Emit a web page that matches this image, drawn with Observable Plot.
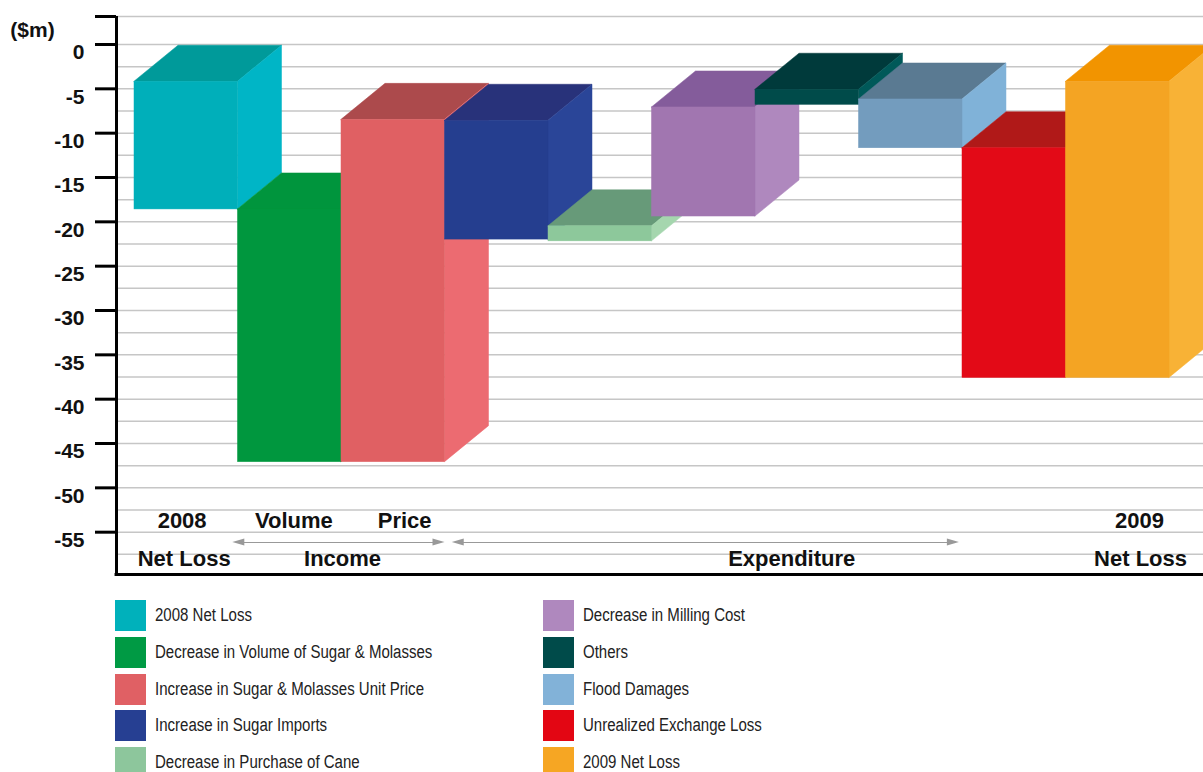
<!DOCTYPE html>
<html>
<head>
<meta charset="utf-8">
<script src="https://cdn.jsdelivr.net/npm/d3@7"></script>
<script src="https://cdn.jsdelivr.net/npm/@observablehq/plot@0.6"></script>
<style>
  html, body { margin: 0; padding: 0; background: #fff; }
  #chart svg { display: block; }
  #legend { position: relative; height: 196px; font-family: "Liberation Sans", Arial, sans-serif; font-size: 18px; color: #222; }
  .item { position: absolute; display: flex; align-items: center; height: 31px; white-space: nowrap; }
  .sw { width: 31px; height: 31px; margin-right: 9px; flex: none; }
  .item span { display: inline-block; transform: scaleX(0.835); transform-origin: left center; }
</style>
</head>
<body>
<div id="chart"></div>
<div id="legend"></div>
<script>
// ---------------- DATA ----------------
const categories = [
  "2008 Net Loss",
  "Decrease in Volume of Sugar & Molasses",
  "Increase in Sugar & Molasses Unit Price",
  "Increase in Sugar Imports",
  "Decrease in Purchase of Cane",
  "Decrease in Milling Cost",
  "Others",
  "Flood Damages",
  "Unrealized Exchange Loss",
  "2009 Net Loss"
];
// lower and upper level of each floating bar ($m)
const barLow  = [-18.6, -47.1, -47.1, -22.0, -22.2, -19.4, -6.8, -11.7, -37.6, -37.6];
const barHigh = [-4.2, -18.6, -8.5, -8.6, -20.5, -7.1, -5.1, -6.2, -11.7, -4.2];

const frontColors  = ["#00afba", "#00973e", "#e06063", "#253e8f", "#8dc89b", "#a176b0", "#004b4a", "#739cbe", "#e30a17", "#f4a423"];
const topColors    = ["#009a9a", "#00953d", "#ac4a4c", "#28327a", "#679a79", "#845c9b", "#003a3b", "#5a7a92", "#b01918", "#f29400"];
const sideColors   = ["#00b5c6", "#009c42", "#ec6b71", "#2a4598", "#a5d6ae", "#af88be", "#005959", "#80b2d8", "#e53030", "#f8b236"];
const legendColors = ["#00b1bb", "#009a44", "#e06064", "#263f92", "#8dc69c", "#af88be", "#004b4a", "#82b2d8", "#e30613", "#f6a623"];

const yTicks = [0, -5, -10, -15, -20, -25, -30, -35, -40, -45, -50, -55];
const gridValues = d3.range(0, -57.5 - 0.01, -2.5);

// axis annotation rows (bar-index positions)
const topLabels = [
  {text: "2008", at: 0.46}, {text: "Volume", at: 1.54}, {text: "Price", at: 2.61}, {text: "2009", at: 9.71}
];
const bottomLabels = [
  {text: "Net Loss", at: 0.48}, {text: "Income", at: 2.01}, {text: "Expenditure", at: 6.35}, {text: "Net Loss", at: 9.72}
];
const groups = [
  {name: "Income", from: 0.95, to: 3.0},
  {name: "Expenditure", from: 3.07, to: 7.97}
];

// ---------------- LAYOUT ----------------
const W = 1203, H = 576;
const X = px => (px - 134) / 103.5;       // pixel -> bar index units
const Y = px => (44 - px) / 8.867;        // pixel -> $m
const yMax = Y(16), yMin = Y(574);
const DX = 44 / 103.5, DY = 36 / 8.867;   // 3D depth
const xAxis = X(116);

const bars = categories.map((c, i) => ({c, i, lo: barLow[i], hi: barHigh[i]}));

const marks = [];
// gridlines
marks.push(Plot.ruleY(gridValues.concat([yMax]), {x1: xAxis, x2: X(W), stroke: "#c6c6c6", strokeWidth: 1.5}));

// 3D bars, drawn one after another
for (const b of bars) {
  const a = b.i, e = b.i + 1;
  marks.push(Plot.areaX([{y: b.hi, x1: a, x2: e}, {y: b.hi + DY, x1: a + DX, x2: e + DX}],
    {y: "y", x1: "x1", x2: "x2", fill: topColors[b.i], stroke: topColors[b.i], strokeWidth: 0.5}));
  marks.push(Plot.areaY([{x: e, y1: b.lo, y2: b.hi}, {x: e + DX, y1: b.lo + DY, y2: b.hi + DY}],
    {x: "x", y1: "y1", y2: "y2", fill: sideColors[b.i], stroke: sideColors[b.i], strokeWidth: 0.5}));
  marks.push(Plot.rect([b], {x1: d => d.i, x2: d => d.i + 1, y1: "lo", y2: "hi", fill: frontColors[b.i], stroke: frontColors[b.i], strokeWidth: 0.5}));
}

// axes
marks.push(Plot.ruleX([xAxis], {y1: yMin, y2: yMax, stroke: "#000", strokeWidth: 3}));
marks.push(Plot.ruleY([yMin], {x1: xAxis - 0.014, x2: X(W), stroke: "#000", strokeWidth: 3}));
marks.push(Plot.ruleY(yTicks.concat([yMax]), {x1: X(95), x2: xAxis, stroke: "#000", strokeWidth: 3}));
marks.push(Plot.text(yTicks, {x: X(84), y: d => d, text: d => String(d), textAnchor: "end", dy: 8,
  fontWeight: "bold", fontSize: 21, fill: "#111"}));
marks.push(Plot.text(["($m)"], {x: X(32), y: Y(30), text: d => d, fontWeight: "bold", fontSize: 21, fill: "#111"}));

// category / group labels
marks.push(Plot.text(topLabels, {x: "at", y: Y(520.5), text: "text", fontWeight: "bold", fontSize: 22, fill: "#111"}));
marks.push(Plot.text(bottomLabels, {x: "at", y: Y(558), text: "text", fontWeight: "bold", fontSize: 22, fill: "#111"}));

// double-headed gray arrows
const yA = Y(542), aLen = 12 / 103.5, aH = 3.5 / 8.867;
marks.push(Plot.ruleY(groups, {x1: d => d.from + aLen * 0.5, x2: d => d.to - aLen * 0.5, y: yA, stroke: "#999", strokeWidth: 1}));
for (const g of groups) {
  marks.push(Plot.areaY([{x: g.from, y1: yA, y2: yA}, {x: g.from + aLen, y1: yA - aH, y2: yA + aH}],
    {x: "x", y1: "y1", y2: "y2", fill: "#999"}));
  marks.push(Plot.areaY([{x: g.to - aLen, y1: yA - aH, y2: yA + aH}, {x: g.to, y1: yA, y2: yA}],
    {x: "x", y1: "y1", y2: "y2", fill: "#999"}));
}

const chart = Plot.plot({
  width: W,
  height: H,
  marginTop: 16,
  marginBottom: 2,
  marginLeft: 0,
  marginRight: 0,
  x: {type: "linear", domain: [X(0), X(W)], axis: null},
  y: {type: "linear", domain: [yMin, yMax], axis: null},
  style: {fontFamily: "'Liberation Sans', Arial, Helvetica, sans-serif", background: "#fff", overflow: "visible"},
  marks
});
document.getElementById("chart").appendChild(chart);

// ---------------- LEGEND ----------------
const legend = document.getElementById("legend");
const colLeft = [115, 543];
categories.forEach((c, i) => {
  const col = i < 5 ? 0 : 1, row = i % 5;
  const item = document.createElement("div");
  item.className = "item";
  item.style.left = colLeft[col] + "px";
  item.style.top = (24 + row * 36.75) + "px";
  const sw = document.createElement("div");
  sw.className = "sw";
  sw.style.background = legendColors[i];
  const tx = document.createElement("span");
  tx.textContent = c;
  item.appendChild(sw);
  item.appendChild(tx);
  legend.appendChild(item);
});
</script>
</body>
</html>
